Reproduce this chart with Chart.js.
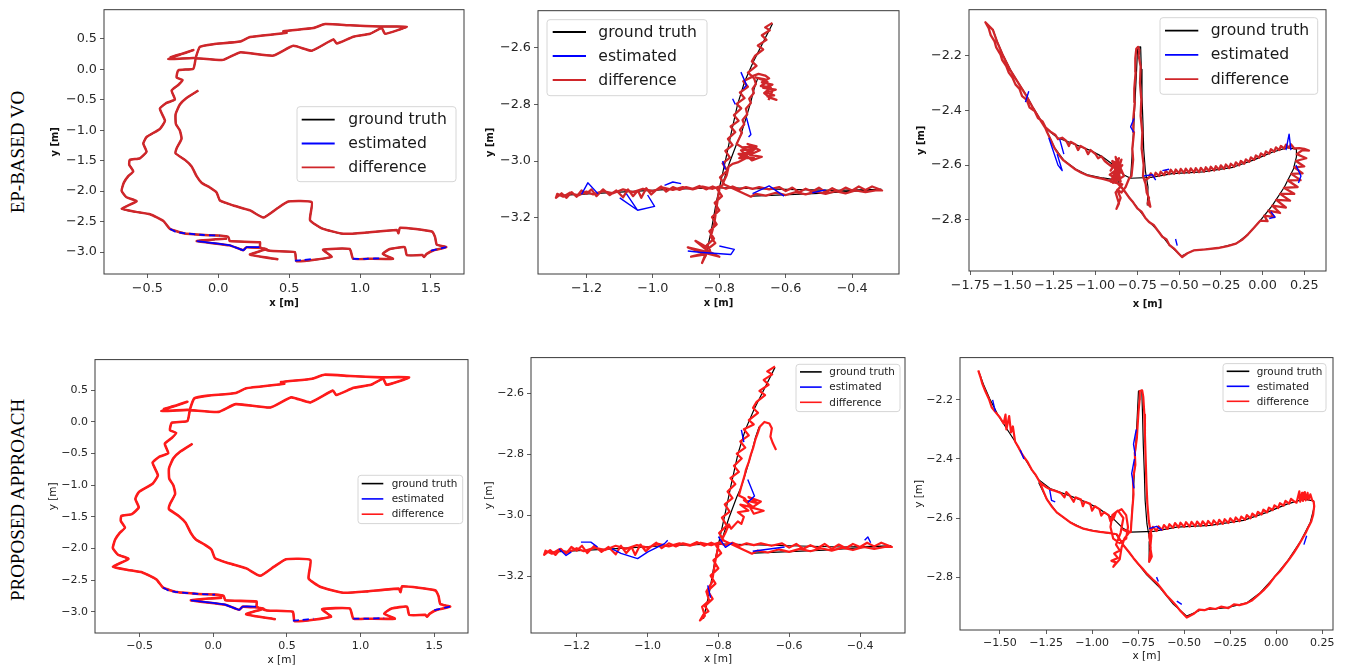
<!DOCTYPE html>
<html>
<head>
<meta charset="utf-8">
<script src="https://cdn.jsdelivr.net/npm/chart.js@4.4.1/dist/chart.umd.min.js"></script>
<style>
  body { margin: 0; background: #fff; width: 1347px; height: 670px; position: relative; overflow: hidden; }
  canvas { position: absolute; }
  .rowlabel { position: absolute; font-family: "Liberation Serif", serif; font-size: 19px; color: #000;
              white-space: nowrap; transform: translate(-50%, -50%) rotate(-90deg); }
</style>
</head>
<body>
<div class="rowlabel" style="left:18px; top:152px">EP-BASED VO</div>
<div class="rowlabel" style="left:18px; top:500px">PROPOSED APPROACH</div>
<script>
const seriesLabels = ['ground truth', 'estimated', 'difference'];

// tick values
const loopXTicks = [-0.5, 0, 0.5, 1, 1.5];
const loopYTicks = [-3, -2.5, -2, -1.5, -1, -0.5, 0, 0.5];
const crossXTicks = [-1.2, -1.0, -0.8, -0.6, -0.4];
const crossYTicks = [-3.2, -3.0, -2.8, -2.6];
const wing3XTicks = [-1.75, -1.5, -1.25, -1.0, -0.75, -0.5, -0.25, 0, 0.25];
const wing6XTicks = [-1.5, -1.25, -1.0, -0.75, -0.5, -0.25, 0, 0.25];
const wingYTicks = [-2.8, -2.6, -2.4, -2.2];

// column 1: long loop run
const loopPath = [
  [-0.141,-0.348],[-0.224,-0.471],[-0.271,-0.578],[-0.301,-0.738],[-0.299,-0.898],[-0.271,-1.005],[-0.259,-1.139],
  [-0.294,-1.299],[-0.301,-1.380],[-0.235,-1.487],[-0.188,-1.594],[-0.153,-1.754],[-0.118,-1.861],[-0.059,-1.941],
  [-0.012,-2.021],[0.012,-2.155],[0.106,-2.235],[0.224,-2.316],[0.318,-2.433],[0.412,-2.289],[0.494,-2.171],
  [0.659,-2.182],[0.647,-2.476],[0.729,-2.610],[0.882,-2.700],[1.047,-2.679],[1.259,-2.636],[1.271,-2.690],
  [1.282,-2.599],[1.506,-2.663],[1.529,-2.754],[1.541,-2.877],[1.608,-2.920],[1.520,-2.970],[1.470,-3.030],
  [1.450,-3.080],[1.440,-3.050],[1.330,-3.050],[1.315,-2.920],[1.210,-2.950],[1.160,-3.030],[1.232,-3.110],
  [1.050,-3.110],[0.951,-3.110],[0.927,-2.950],[0.739,-2.960],[0.799,-3.080],[0.552,-3.150],[0.540,-3.000],
  [0.364,-2.980],[0.294,-2.920],[0.294,-2.840],[0.082,-2.820],[0.070,-2.750],[0.012,-2.730],[-0.100,-2.720],
  [-0.246,-2.690],[-0.340,-2.620],[-0.387,-2.490],[-0.481,-2.380],[-0.580,-2.340],[-0.682,-2.290],[-0.576,-2.166],
  [-0.647,-2.100],[-0.682,-1.995],[-0.666,-1.860],[-0.635,-1.754],[-0.600,-1.674],[-0.628,-1.567],[-0.624,-1.487],
  [-0.553,-1.460],[-0.506,-1.353],[-0.529,-1.219],[-0.506,-1.112],[-0.412,-0.979],[-0.376,-0.845],[-0.412,-0.647],
  [-0.365,-0.551],[-0.306,-0.497],[-0.329,-0.348],[-0.282,-0.257],[-0.252,-0.176],[-0.294,-0.134],[-0.282,-0.016],
  [-0.176,0.011],[-0.158,0.198],[-0.129,0.369],[-0.035,0.412],[0.153,0.455],[0.224,0.529],[0.482,0.599],
  [0.459,0.626],[0.671,0.679],[0.753,0.743],[0.929,0.722],[1.141,0.701],[1.329,0.701],[1.176,0.583],
  [1.153,0.679],[1.071,0.583],[0.953,0.535],[0.835,0.422],[0.812,0.492],[0.659,0.305],[0.529,0.385],
  [0.388,0.225],[0.153,0.278],[0.035,0.155],[-0.176,0.187],[-0.353,0.171],[-0.176,0.316],[-0.259,0.251],[-0.341,0.198],
  null,
  [0.423,-3.120],[0.223,-3.040],[0.341,-2.950],[0.200,-2.920],[0.176,-2.970],[0.082,-2.890],[-0.152,-2.820],
  [-0.020,-2.790],[0.060,-2.780]
];
const loopEst = [
  [-0.340,-2.620],[-0.300,-2.670],[-0.246,-2.690],[-0.100,-2.720],[0.012,-2.730], null,
  [-0.152,-2.820],[0.082,-2.890],[0.176,-2.970],[0.200,-2.920],[0.290,-2.920], null,
  [0.540,-3.140],[0.600,-3.130],[0.680,-3.110], null,
  [0.951,-3.110],[1.050,-3.110],[1.160,-3.100], null,
  [1.500,-2.975],[1.608,-2.920]
];

// column 2: cross-shaped run
const crossGt = [
  [-0.640,-2.515],[-0.668,-2.580],[-0.698,-2.650],[-0.724,-2.720],[-0.745,-2.800],[-0.764,-2.900],[-0.780,-2.990],
  [-0.795,-3.070],[-0.810,-3.150],[-0.825,-3.250],[-0.842,-3.340], null,
  [-1.290,-3.122],[-1.100,-3.110],[-0.950,-3.100],[-0.800,-3.094],[-0.600,-3.100],[-0.450,-3.104],[-0.312,-3.100], null,
  [-0.312,-3.100],[-0.500,-3.114],[-0.700,-3.124], null,
  [-0.790,-3.080],[-0.770,-3.008],[-0.748,-2.940],[-0.735,-2.906],[-0.720,-2.850],[-0.705,-2.790],[-0.695,-2.744],[-0.685,-2.710]
];
const crossV = [
  [-0.640,-2.512],[-0.662,-2.528],[-0.648,-2.538],[-0.672,-2.556],[-0.658,-2.572],[-0.684,-2.592],[-0.668,-2.606],
  [-0.692,-2.628],[-0.702,-2.648],[-0.688,-2.664],[-0.714,-2.688],[-0.700,-2.702],[-0.728,-2.718],[-0.714,-2.738],
  [-0.738,-2.758],[-0.724,-2.778],[-0.748,-2.798],[-0.734,-2.814],[-0.756,-2.838],[-0.742,-2.858],[-0.766,-2.878],
  [-0.752,-2.898],[-0.774,-2.922],[-0.760,-2.944],[-0.782,-2.964],[-0.768,-2.988],[-0.790,-3.008],[-0.776,-3.034],
  [-0.798,-3.058],[-0.786,-3.080],[-0.806,-3.100],[-0.792,-3.124],[-0.814,-3.148],[-0.800,-3.174],[-0.822,-3.198],
  [-0.808,-3.224],[-0.830,-3.248],[-0.816,-3.274],[-0.838,-3.298],[-0.828,-3.315]
];
const cross2Star = [
  [-0.840,-3.320],[-0.895,-3.305],[-0.845,-3.326],[-0.885,-3.338],[-0.842,-3.330],[-0.852,-3.360],[-0.838,-3.326],
  [-0.800,-3.338],[-0.834,-3.318],[-0.872,-3.282],[-0.832,-3.308],[-0.812,-3.290],[-0.826,-3.268],[-0.815,-3.220],
  [-0.808,-3.160],[-0.800,-3.100]
];
const cross5Tail = [
  [-0.842,-3.325],[-0.852,-3.345],[-0.838,-3.330],[-0.846,-3.300],[-0.826,-3.280],[-0.834,-3.250],[-0.818,-3.220],
  [-0.810,-3.160],[-0.800,-3.100]
];
const crossH = [
  [-0.820,-3.090],[-0.840,-3.100],[-0.860,-3.088],[-0.880,-3.098],[-0.900,-3.092],[-0.920,-3.102],[-0.940,-3.092],
  [-0.960,-3.108],[-0.975,-3.090],[-0.990,-3.102],[-1.005,-3.118],[-1.020,-3.096],[-1.035,-3.130],[-1.045,-3.104],
  [-1.060,-3.124],[-1.075,-3.100],[-1.090,-3.128],[-1.110,-3.104],[-1.130,-3.120],[-1.150,-3.100],[-1.170,-3.124],
  [-1.185,-3.100],[-1.200,-3.116],[-1.215,-3.104],[-1.230,-3.126],[-1.245,-3.110],[-1.260,-3.130],[-1.275,-3.114],
  [-1.292,-3.130],[-1.288,-3.116],[-1.270,-3.126],[-1.250,-3.112],[-1.225,-3.122],[-1.200,-3.108],[-1.180,-3.118],
  [-1.150,-3.106],[-1.120,-3.114],[-1.090,-3.100],[-1.060,-3.110],[-1.030,-3.098],[-1.000,-3.106],[-0.970,-3.094],
  [-0.940,-3.102],[-0.910,-3.092],[-0.880,-3.100],[-0.850,-3.090],[-0.820,-3.098],[-0.800,-3.090],[-0.780,-3.098],
  [-0.760,-3.090],[-0.740,-3.100],[-0.720,-3.092],[-0.700,-3.098],[-0.680,-3.092],[-0.650,-3.100],[-0.620,-3.092],
  [-0.600,-3.106],[-0.580,-3.094],[-0.560,-3.110],[-0.540,-3.098],[-0.520,-3.108],[-0.500,-3.094],[-0.480,-3.110],
  [-0.460,-3.096],[-0.440,-3.108],[-0.420,-3.094],[-0.400,-3.104],[-0.380,-3.090],[-0.360,-3.102],[-0.340,-3.090],
  [-0.322,-3.098],[-0.310,-3.104],[-0.330,-3.104],[-0.360,-3.110],[-0.390,-3.104],[-0.420,-3.114],[-0.450,-3.106],
  [-0.480,-3.116],[-0.510,-3.108],[-0.540,-3.118],[-0.570,-3.110],[-0.600,-3.120],[-0.630,-3.112],[-0.660,-3.122],
  [-0.690,-3.116],[-0.705,-3.126]
];
const cross2Branch = [
  [-0.790,-3.080],[-0.778,-3.050],[-0.772,-3.020],[-0.760,-3.010],[-0.745,-3.005],[-0.720,-2.990],[-0.742,-2.975],
  [-0.700,-2.968],[-0.732,-2.952],[-0.688,-2.948],[-0.715,-2.940],[-0.678,-2.962],[-0.708,-2.978],[-0.672,-2.985],
  [-0.702,-2.998],[-0.735,-2.962],[-0.690,-2.955],[-0.725,-2.985],[-0.695,-2.990],[-0.740,-2.990],[-0.712,-2.965],
  [-0.748,-2.940],[-0.740,-2.920],[-0.732,-2.900],[-0.738,-2.890],[-0.725,-2.870],
  [-0.730,-2.855],[-0.716,-2.835],[-0.720,-2.815],[-0.705,-2.795],[-0.710,-2.780],[-0.696,-2.760],[-0.700,-2.745],
  [-0.690,-2.728],[-0.694,-2.712],[-0.700,-2.700],[-0.682,-2.692],[-0.662,-2.698],[-0.650,-2.708],[-0.672,-2.722],
  [-0.640,-2.730],[-0.668,-2.742],[-0.630,-2.748],[-0.660,-2.758],[-0.635,-2.768],[-0.655,-2.772],[-0.628,-2.784],
  [-0.648,-2.776],[-0.665,-2.760],[-0.645,-2.740],[-0.675,-2.735],[-0.655,-2.720],[-0.690,-2.705],[-0.662,-2.712],
  [-0.640,-2.752],[-0.652,-2.785]
];
const cross5Branch = [
  [-0.790,-3.080],[-0.778,-3.052],[-0.770,-3.030],[-0.764,-3.044],[-0.745,-3.020],[-0.735,-3.028],[-0.728,-3.005],
  [-0.745,-2.990],[-0.715,-2.985],[-0.738,-2.965],[-0.700,-2.975],[-0.728,-2.950],[-0.690,-2.960],[-0.715,-2.940],
  [-0.680,-2.955],[-0.705,-2.975],[-0.672,-2.985],[-0.700,-2.995],[-0.725,-2.945],[-0.742,-2.935],[-0.735,-2.905],
  [-0.726,-2.870],[-0.722,-2.850],[-0.714,-2.825],[-0.708,-2.800],[-0.702,-2.780],[-0.695,-2.750],[-0.688,-2.728],
  [-0.683,-2.710],[-0.679,-2.705],[-0.670,-2.694],[-0.656,-2.699],[-0.649,-2.715],[-0.653,-2.742],[-0.646,-2.764],
  [-0.637,-2.786]
];
const cross2Est = [
  [-1.215,-3.118],[-1.196,-3.077],[-1.165,-3.116], null,
  [-1.100,-3.130],[-1.046,-3.174],[-0.995,-3.160],[-1.016,-3.120], null,
  [-1.080,-3.115],[-1.046,-3.174], null,
  [-0.965,-3.086],[-0.940,-3.074],[-0.915,-3.080], null,
  [-0.700,-3.115],[-0.650,-3.088],[-0.605,-3.124], null,
  [-0.520,-3.112],[-0.480,-3.102], null,
  [-0.895,-3.318],[-0.860,-3.322],[-0.765,-3.330],[-0.755,-3.312],[-0.800,-3.300], null,
  [-0.735,-2.686],[-0.718,-2.732],[-0.728,-2.745], null,
  [-0.718,-2.848],[-0.705,-2.906],[-0.712,-2.915], null,
  [-0.760,-2.780],[-0.752,-2.800], null,
  [-0.790,-3.000],[-0.782,-3.030]
];
const cross5Est = [
  [-1.188,-3.088],[-1.160,-3.088],[-1.141,-3.104], null,
  [-1.100,-3.110],[-1.075,-3.125],[-1.028,-3.142],[-0.999,-3.120],[-0.952,-3.093],[-0.943,-3.082], null,
  [-1.250,-3.110],[-1.230,-3.132],[-1.215,-3.120], null,
  [-0.703,-3.118],[-0.613,-3.104], null,
  [-0.717,-2.883],[-0.698,-2.937],[-0.717,-2.958], null,
  [-0.735,-2.720],[-0.728,-2.760], null,
  [-0.387,-3.082],[-0.378,-3.071],[-0.370,-3.090], null,
  [-0.830,-3.230],[-0.822,-3.270], null,
  [-0.800,-3.070],[-0.780,-3.105],[-0.760,-3.090]
];

// column 3: wing-shaped run
const wingGt = [
  [-1.615,-2.104],[-1.590,-2.147],[-1.555,-2.197],[-1.510,-2.252],[-1.464,-2.297],[-1.418,-2.341],[-1.373,-2.391],
  [-1.328,-2.436],[-1.290,-2.470],[-1.228,-2.500],[-1.120,-2.525],[-1.029,-2.547],[-0.957,-2.570],[-0.884,-2.603],
  [-0.830,-2.636],[-0.790,-2.648],[-0.667,-2.645],[-0.540,-2.631],[-0.359,-2.625],[-0.178,-2.608],[-0.051,-2.581],
  [0.058,-2.553],[0.149,-2.536],[0.203,-2.542],[0.203,-2.570],[0.185,-2.614],[0.130,-2.681],[0.058,-2.748],
  [-0.014,-2.803],[-0.087,-2.853],[-0.159,-2.887],[-0.268,-2.903],[-0.413,-2.912],[-0.486,-2.932],[-0.558,-2.892],
  [-0.630,-2.837],[-0.703,-2.792],[-0.775,-2.736],[-0.830,-2.692],[-0.870,-2.655],[-0.957,-2.647],[-1.047,-2.636],
  [-1.120,-2.614],[-1.192,-2.581],[-1.246,-2.536],[-1.290,-2.480], null,
  [-0.790,-2.648],[-0.785,-2.600],[-0.775,-2.500],[-0.765,-2.380],[-0.755,-2.260],[-0.748,-2.170],[-0.730,-2.168],
  [-0.726,-2.250],[-0.722,-2.350],[-0.716,-2.450],[-0.712,-2.540],[-0.702,-2.620],[-0.686,-2.680],[-0.690,-2.748]
];
// right-hand branch with its short upward hatch, common to both wing panels
const wingBranchHatch = [
  [-0.680,-2.646],[-0.670,-2.630],[-0.650,-2.644],[-0.640,-2.628],[-0.620,-2.640],[-0.610,-2.624],[-0.590,-2.637],
  [-0.580,-2.621],[-0.560,-2.633],[-0.550,-2.617],[-0.530,-2.632],[-0.520,-2.616],[-0.500,-2.630],[-0.490,-2.614],
  [-0.470,-2.629],[-0.460,-2.613],[-0.440,-2.628],[-0.430,-2.612],[-0.410,-2.627],[-0.400,-2.611],[-0.380,-2.626],
  [-0.370,-2.610],[-0.350,-2.624],[-0.340,-2.608],[-0.320,-2.622],[-0.310,-2.606],[-0.290,-2.620],[-0.280,-2.604],
  [-0.260,-2.617],[-0.250,-2.601],[-0.230,-2.614],[-0.220,-2.598],[-0.200,-2.611],[-0.190,-2.595],[-0.170,-2.606],
  [-0.160,-2.590],[-0.140,-2.601],[-0.130,-2.585],[-0.110,-2.595],[-0.100,-2.579],[-0.080,-2.588],[-0.070,-2.572],
  [-0.050,-2.581],[-0.040,-2.565],[-0.020,-2.573],[-0.010,-2.557],[0.010,-2.566],[0.020,-2.550],[0.040,-2.558],
  [0.050,-2.542],[0.070,-2.551],[0.080,-2.535],[0.100,-2.545]
];
const wing3Start = [
  [-1.290,-2.475],[-1.328,-2.438],[-1.373,-2.393],[-1.418,-2.343],[-1.464,-2.299],[-1.510,-2.254],[-1.555,-2.199],
  [-1.590,-2.149],[-1.615,-2.106],[-1.660,-2.078],[-1.640,-2.100],[-1.628,-2.125],[-1.605,-2.148],[-1.595,-2.170],
  [-1.570,-2.195],[-1.560,-2.215],[-1.535,-2.238],[-1.520,-2.262],[-1.498,-2.280],[-1.480,-2.305],[-1.455,-2.322],
  [-1.440,-2.348],[-1.412,-2.362],[-1.395,-2.390],[-1.365,-2.402],[-1.345,-2.428],[-1.318,-2.440],[-1.300,-2.462],
  [-1.270,-2.478],[-1.240,-2.490],[-1.225,-2.505],[-1.200,-2.500],[-1.175,-2.512],[-1.160,-2.530],[-1.150,-2.515],
  [-1.120,-2.525],[-1.105,-2.545],[-1.090,-2.530],[-1.060,-2.540],[-1.045,-2.560],[-1.030,-2.545],[-1.000,-2.560],
  [-0.985,-2.575],[-0.965,-2.568],[-0.945,-2.585],[-0.925,-2.595],[-0.905,-2.605],
  [-0.880,-2.590],[-0.910,-2.620],[-0.860,-2.575],[-0.900,-2.650],[-0.840,-2.600],[-0.915,-2.635],[-0.850,-2.660],
  [-0.880,-2.570],[-0.830,-2.640],[-0.895,-2.665],[-0.870,-2.610],[-0.905,-2.600],[-0.845,-2.625],[-0.890,-2.640],
  [-0.860,-2.655],[-0.900,-2.585],[-0.865,-2.595],[-0.880,-2.650],[-0.845,-2.580],[-0.910,-2.660],[-0.840,-2.670],
  [-0.880,-2.700],[-0.860,-2.740],[-0.875,-2.760],[-0.850,-2.720],[-0.870,-2.690],[-0.845,-2.700],[-0.820,-2.680],
  [-0.800,-2.650],
  [-0.785,-2.640],[-0.775,-2.580],[-0.780,-2.540],[-0.770,-2.480],[-0.774,-2.430],[-0.765,-2.370],[-0.768,-2.320],
  [-0.760,-2.260],[-0.762,-2.210],[-0.756,-2.175],[-0.745,-2.168],[-0.738,-2.180],[-0.742,-2.200],[-0.730,-2.240],
  [-0.734,-2.300],[-0.726,-2.360],[-0.730,-2.420],[-0.720,-2.480],[-0.724,-2.540],[-0.712,-2.600],[-0.716,-2.640],
  [-0.700,-2.670],[-0.694,-2.700],[-0.680,-2.720],[-0.688,-2.740],[-0.672,-2.752],[-0.690,-2.700],[-0.705,-2.655]
];
const wing3End = [
  [0.110,-2.530],[0.130,-2.540],[0.140,-2.525],[0.160,-2.537],[0.170,-2.524],[0.190,-2.539],[0.220,-2.538],
  [0.250,-2.541],[0.278,-2.547],
  [0.240,-2.545],[0.205,-2.560],[0.262,-2.575],[0.200,-2.585],[0.250,-2.605],[0.190,-2.608],[0.240,-2.630],
  [0.172,-2.632],[0.228,-2.655],[0.152,-2.656],[0.210,-2.680],[0.128,-2.683],[0.190,-2.705],[0.105,-2.705],
  [0.165,-2.730],[0.082,-2.727],[0.140,-2.755],[0.058,-2.748],[0.105,-2.775],[0.035,-2.766],[0.070,-2.790],
  [0.010,-2.785],[0.030,-2.805],[-0.014,-2.803],[-0.050,-2.828],[-0.087,-2.853],[-0.120,-2.872],[-0.159,-2.887],
  [-0.210,-2.896],[-0.268,-2.903],[-0.340,-2.908],[-0.413,-2.912],[-0.450,-2.922],[-0.481,-2.936],
  [-0.500,-2.925],[-0.530,-2.905],[-0.558,-2.892],[-0.575,-2.872],[-0.600,-2.862],[-0.630,-2.837],[-0.650,-2.820],
  [-0.680,-2.808],[-0.703,-2.792],[-0.725,-2.770],[-0.750,-2.758],[-0.775,-2.736],[-0.800,-2.718],[-0.830,-2.692],
  [-0.870,-2.665],[-0.957,-2.650],[-1.000,-2.645],[-1.047,-2.638],[-1.085,-2.628],[-1.120,-2.616],[-1.155,-2.600],
  [-1.192,-2.583],[-1.220,-2.562],[-1.246,-2.538],[-1.268,-2.508],[-1.290,-2.480],[-1.310,-2.451]
];
const wing3Est = [
  [0.140,-2.545],[0.159,-2.487],[0.170,-2.545], null,
  [-1.280,-2.500],[-1.225,-2.600],[-1.200,-2.620],[-1.230,-2.560], null,
  [-1.215,-2.505],[-1.190,-2.560], null,
  [0.200,-2.600],[0.230,-2.640],[0.215,-2.665], null,
  [0.050,-2.770],[0.075,-2.790],[0.040,-2.795], null,
  [-0.521,-2.870],[-0.511,-2.894], null,
  [-0.770,-2.430],[-0.790,-2.460],[-0.772,-2.480], null,
  [-0.710,-2.640],[-0.660,-2.635],[-0.640,-2.655], null,
  [-0.600,-2.620],[-0.560,-2.615], null,
  [-1.400,-2.330],[-1.420,-2.370]
];
const wing6Start = [
  [-1.618,-2.100],[-1.605,-2.125],[-1.595,-2.147],[-1.580,-2.170],[-1.560,-2.197],[-1.545,-2.225],[-1.520,-2.245],
  [-1.500,-2.260],[-1.480,-2.280],[-1.470,-2.250],[-1.465,-2.300],[-1.450,-2.255],[-1.440,-2.310],[-1.430,-2.290],
  [-1.418,-2.341],[-1.400,-2.360],[-1.385,-2.378],[-1.373,-2.391],[-1.350,-2.410],[-1.328,-2.436],[-1.305,-2.455],
  [-1.283,-2.480],
  [-1.250,-2.495],[-1.228,-2.503],[-1.200,-2.508],[-1.170,-2.515],[-1.150,-2.530],[-1.140,-2.512],[-1.120,-2.525],
  [-1.100,-2.545],[-1.090,-2.530],[-1.060,-2.537],[-1.050,-2.560],[-1.040,-2.545],[-1.010,-2.552],[-1.000,-2.575],
  [-0.985,-2.560],[-0.960,-2.570],[-0.950,-2.592],[-0.935,-2.580],[-0.910,-2.590],[-0.900,-2.612],[-0.884,-2.603],
  [-0.870,-2.580],[-0.840,-2.570],[-0.815,-2.590],[-0.805,-2.630],[-0.815,-2.670],[-0.850,-2.685],[-0.885,-2.670],
  [-0.900,-2.630],[-0.890,-2.590],[-0.860,-2.575],[-0.830,-2.600],[-0.845,-2.650],[-0.870,-2.690],[-0.850,-2.710],
  [-0.880,-2.720],[-0.860,-2.735],[-0.895,-2.745],[-0.870,-2.750],[-0.885,-2.765],[-0.850,-2.740],[-0.840,-2.700],
  [-0.825,-2.670],[-0.800,-2.650],[-0.830,-2.640],[-0.790,-2.648],
  [-0.785,-2.600],[-0.775,-2.520],[-0.778,-2.470],[-0.765,-2.420],[-0.768,-2.380],[-0.757,-2.330],[-0.752,-2.280],
  [-0.748,-2.240],[-0.742,-2.200],[-0.741,-2.170],[-0.728,-2.168],[-0.722,-2.190],[-0.716,-2.250],[-0.713,-2.320],
  [-0.709,-2.400],[-0.705,-2.480],[-0.700,-2.550],[-0.692,-2.610],[-0.678,-2.660],[-0.684,-2.700],[-0.676,-2.730],
  [-0.690,-2.748],[-0.682,-2.700],[-0.690,-2.655]
];
const wing6End = [
  [0.110,-2.548],[0.125,-2.510],[0.130,-2.545],[0.140,-2.515],[0.145,-2.542],[0.155,-2.512],[0.160,-2.540],
  [0.170,-2.515],[0.175,-2.538],[0.185,-2.520],[0.195,-2.540],[0.203,-2.545],
  [0.206,-2.560],[0.200,-2.590],[0.190,-2.612],[0.175,-2.630],[0.160,-2.650],[0.140,-2.672],[0.118,-2.695],
  [0.095,-2.718],[0.070,-2.740],[0.045,-2.760],[0.020,-2.780],[-0.010,-2.800],[-0.040,-2.825],[-0.070,-2.845],
  [-0.100,-2.862],[-0.130,-2.878],[-0.160,-2.888],[-0.200,-2.895],[-0.230,-2.892],[-0.260,-2.905],[-0.300,-2.900],
  [-0.330,-2.908],[-0.360,-2.905],[-0.390,-2.912],[-0.420,-2.910],[-0.450,-2.925],[-0.486,-2.937],
  [-0.520,-2.915],[-0.545,-2.895],[-0.570,-2.878],[-0.595,-2.862],[-0.620,-2.842],[-0.645,-2.822],[-0.670,-2.808],
  [-0.700,-2.790],[-0.725,-2.772],[-0.750,-2.755],[-0.775,-2.736],[-0.800,-2.715],[-0.830,-2.692],
  [-0.866,-2.655],[-0.910,-2.650],[-0.957,-2.647],[-1.000,-2.643],[-1.047,-2.636],[-1.085,-2.626],[-1.120,-2.614],
  [-1.155,-2.598],[-1.192,-2.581],[-1.220,-2.560],[-1.246,-2.536],[-1.265,-2.508],[-1.283,-2.480]
];
const wing6Est = [
  [-1.540,-2.200],[-1.525,-2.240], null,
  [-1.390,-2.370],[-1.370,-2.400], null,
  [-1.230,-2.505],[-1.220,-2.540],[-1.200,-2.545], null,
  [-0.770,-2.400],[-0.785,-2.450],[-0.772,-2.500], null,
  [-0.760,-2.300],[-0.775,-2.350],[-0.765,-2.390], null,
  [-0.540,-2.881],[-0.513,-2.892], null,
  [-0.690,-2.636],[-0.650,-2.628],[-0.620,-2.642], null,
  [0.150,-2.690],[0.165,-2.660], null,
  [-0.650,-2.800],[-0.640,-2.815]
];

const xy = pts => pts.map(p => p ? { x: p[0], y: p[1] } : { x: NaN, y: NaN });
const fmt = (v, d) => v.toFixed(d).replace('-', '\u2212');

const TOP = { tick: 12.8, title: 10, weight: 'bold', red: '#d0262a', legFs: 15.6, legLw: 1.8 };
const BOT = { tick: 11, title: 10.5, weight: 'normal', red: '#ff1a1a', legFs: 10.4, legLw: 1.6 };

const panels = [
  { box: [104, 5, 464, 274], W: 55, H: 35, xr: [-0.806, 1.733], yr: [-3.36, 0.979], xt: loopXTicks, yt: loopYTicks, xd: 1,
    row: TOP, gt: loopPath, est: loopEst, diff: loopPath, tension: 0.15, lw: [1.5, 1.8, 2.5], solid: [6, 10],
    leg: { x: 193, y: 97, w: 159, h: 75, pad: 4.7, hl: 33, tx: 51.3, row0: 13, gap: 23.8 } },
  { box: [538, 6, 899, 274], W: 54, H: 35, xr: [-1.346, -0.259], yr: [-3.399, -2.469], xt: crossXTicks, yt: crossYTicks, xd: 1,
    row: TOP, gt: crossGt, est: cross2Est, diff: [...crossV, ...cross2Star, ...crossH, ...cross2Branch], tension: 0, lw: [1.2, 1.4, 2.3],
    leg: { x: 9, y: 9, w: 160, h: 76, pad: 5.7, hl: 33.3, tx: 51.3, row0: 12.3, gap: 24 } },
  { box: [969, 5, 1326, 271], W: 54, H: 39, xr: [-1.758, 0.38], yr: [-2.987, -2.032], xt: wing3XTicks, yt: wingYTicks, xd: 2,
    row: TOP, gt: wingGt, est: wing3Est, diff: [...wing3Start, ...wingBranchHatch, ...wing3End], tension: 0, lw: [1.2, 1.4, 2.3],
    leg: { x: 191, y: 8, w: 157.7, h: 76.6, pad: 5, hl: 33.3, tx: 50.7, row0: 13, gap: 24.2 } },
  { box: [95, 356, 468, 633], W: 48, H: 34, xr: [-0.803, 1.729], yr: [-3.336, 0.981], xt: loopXTicks, yt: loopYTicks, xd: 1,
    row: BOT, gt: loopPath, est: loopEst, diff: loopPath, tension: 0.15, lw: [1.5, 1.8, 2.6], solid: [6, 10],
    leg: { x: 263, y: 115.7, w: 104.7, h: 48.3, pad: 3.7, hl: 21.6, tx: 33.7, row0: 8.3, gap: 15.3 } },
  { box: [531, 354, 905, 633], W: 48, H: 33, xr: [-1.329, -0.273], yr: [-3.386, -2.483], xt: crossXTicks, yt: crossYTicks, xd: 1,
    row: BOT, gt: crossGt, est: cross5Est, diff: [...crossV, ...cross5Tail, ...crossH, ...cross5Branch], tension: 0, lw: [1.2, 1.4, 2.2],
    leg: { x: 265, y: 6.7, w: 104, h: 47.3, pad: 4, hl: 21.7, tx: 33.3, row0: 7.6, gap: 15.2 } },
  { box: [960, 354, 1333, 630], W: 47, H: 33, xr: [-1.717, 0.308], yr: [-2.979, -2.057], xt: wing6XTicks, yt: wingYTicks, xd: 2,
    row: BOT, gt: wingGt, est: wing6Est, diff: [...wing6Start, ...wingBranchHatch, ...wing6End], tension: 0, lw: [1.2, 1.4, 2.2],
    leg: { x: 263, y: 6, w: 103, h: 48, pad: 3.7, hl: 22.6, tx: 33.7, row0: 7.7, gap: 15 } }
];

// frame around the plot area + matplotlib-style legend box
const frameLegend = {
  id: 'frameLegend',
  afterDatasetsDraw(chart, args, o) {
    const { ctx, chartArea: a } = chart;
    ctx.save();
    ctx.strokeStyle = '#3a3a3a';
    ctx.lineWidth = 1;
    ctx.strokeRect(a.left, a.top, a.right - a.left, a.bottom - a.top);

    const L = o.box, x = a.left + L.x, y = a.top + L.y;
    ctx.beginPath();
    ctx.roundRect(x, y, L.w, L.h, 3);
    ctx.fillStyle = 'rgba(255,255,255,0.85)';
    ctx.fill();
    ctx.strokeStyle = '#d6d6d6';
    ctx.stroke();
    chart.data.datasets.forEach((ds, i) => {
      const ry = y + L.row0 + i * L.gap;
      ctx.strokeStyle = ds.borderColor;
      ctx.lineWidth = o.lw;
      ctx.setLineDash([]);
      ctx.beginPath();
      ctx.moveTo(x + L.pad, ry);
      ctx.lineTo(x + L.pad + L.hl, ry);
      ctx.stroke();
      ctx.fillStyle = '#1a1a1a';
      ctx.font = o.fs + 'px "DejaVu Sans"';
      ctx.textBaseline = 'middle';
      ctx.fillText(ds.label, x + L.tx, ry + 0.5);
    });
    ctx.restore();
  }
};

const PT = 6, PR = 16;
panels.forEach(p => {
  const [L, T, R, B] = p.box;
  const cv = document.createElement('canvas');
  const w = p.W + (R - L) + PR, h = PT + (B - T) + p.H;
  cv.width = w; cv.height = h;
  cv.style.left = (L - p.W) + 'px';
  cv.style.top = (T - PT) + 'px';
  cv.style.width = w + 'px'; cv.style.height = h + 'px';
  document.body.appendChild(cv);

  const tickFont = { family: '"DejaVu Sans"', size: p.row.tick };
  const titleFont = { family: '"DejaVu Sans"', size: p.row.title, weight: p.row.weight };
  const grid = { drawOnChartArea: false, drawTicks: true, tickLength: 4, tickColor: '#333', tickWidth: 0.8 };
  const line = (label, data, color, width, order) => ({
    label, data: xy(data), borderColor: color, backgroundColor: color, borderWidth: width,
    showLine: true, pointRadius: 0, pointHoverRadius: 0, tension: p.tension, spanGaps: false,
    borderJoinStyle: 'round', borderCapStyle: 'butt', order
  });
  const est = line(seriesLabels[1], p.est, '#0000ff', p.lw[1], 0);
  if (p.solid) {
    // estimated track drawn dashed where it lies on the difference trace, solid where it departs
    est.segment = { borderDash: c => (c.p0DataIndex >= p.solid[0] && c.p0DataIndex < p.solid[1]) ? [] : [6, 4] };
  }

  new Chart(cv, {
    type: 'scatter',
    data: {
      datasets: [
        line(seriesLabels[0], p.gt, '#000000', p.lw[0], 2),
        est,
        line(seriesLabels[2], p.diff, p.row.red, p.lw[2], 1)
      ]
    },
    options: {
      responsive: false,
      animation: false,
      devicePixelRatio: 1,
      layout: { padding: { top: PT, right: PR, left: 0, bottom: 0 } },
      plugins: {
        legend: { display: false },
        tooltip: { enabled: false },
        frameLegend: { box: p.leg, fs: p.row.legFs, lw: p.row.legLw }
      },
      scales: {
        x: {
          type: 'linear', min: p.xr[0], max: p.xr[1],
          afterBuildTicks: s => { s.ticks = p.xt.map(v => ({ value: v })); },
          afterFit: s => { s.height = p.H; },
          ticks: { callback: v => fmt(v, p.xd), font: tickFont, color: '#262626', padding: 3, maxRotation: 0, autoSkip: false },
          grid, border: { display: false },
          title: { display: true, text: 'x [m]', font: titleFont, color: '#111', padding: 0 }
        },
        y: {
          type: 'linear', min: p.yr[0], max: p.yr[1],
          afterBuildTicks: s => { s.ticks = p.yt.map(v => ({ value: v })); },
          afterFit: s => { s.width = p.W; },
          ticks: { callback: v => fmt(v, 1), font: tickFont, color: '#262626', padding: 3, autoSkip: false },
          grid, border: { display: false },
          title: { display: true, text: 'y [m]', font: titleFont, color: '#111', padding: 0 }
        }
      }
    },
    plugins: [frameLegend]
  });
});
</script>
</body>
</html>
